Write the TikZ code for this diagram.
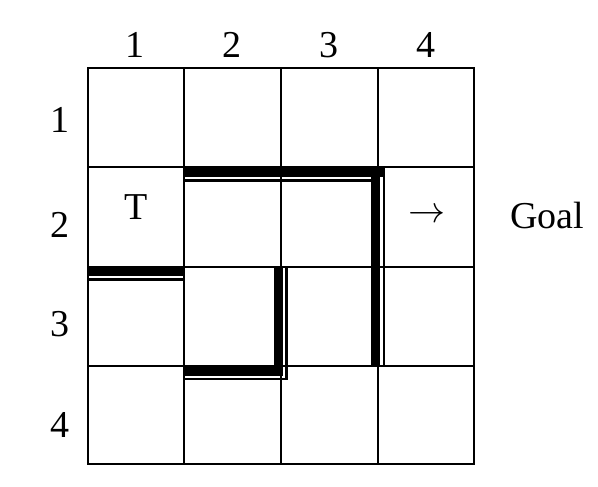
\documentclass[tikz,border=0pt]{standalone}
\usepackage{fontspec}
\setmainfont{Liberation Serif}
\begin{document}
\begin{tikzpicture}[x=1pt,y=-1pt,
  grid/.style={line width=2pt},
  wall/.style={fill=black},
  lbl/.style={anchor=base,inner sep=0pt,font=\fontsize{38}{40}\selectfont}]
\useasboundingbox (0,0) rectangle (598,487);
% grid
\draw[grid] (88.3,68) rectangle (474,464);
\foreach \x in {184,281,378} \draw[grid] (\x,68) -- (\x,464);
\foreach \y in {167,267,366} \draw[grid] (88.3,\y) -- (474,\y);
% column labels
\node[lbl] (c1) at (135,58) {1};
\node[lbl] (c2) at (232,58) {2};
\node[lbl] (c3) at (329,58) {3};
\node[lbl] (c4) at (426,58) {4};
% row labels
\node[lbl] (r1) at (60,132) {1};
\node[lbl] (r2) at (60,237.5) {2};
\node[lbl] (r3) at (60,336) {3};
\node[lbl] (r4) at (60,437.5) {4};
% cell texts
\node[lbl] (t) at (136,219.3) {T};
\node[inner sep=0pt,anchor=center] (arr) at (426.5,215.5) {\scalebox{3.7}{$\rightarrow$}};
\node[lbl,anchor=base west] (goal) at (510,228.3) {Goal};
% wall left (row 2/3, col 1)
\fill[wall] (88.3,266.7) rectangle (184,276);
\fill[wall] (88.3,278.3) rectangle (184,280.6);
% wall top L
\fill[wall] (184,167) rectangle (385.3,177);
\fill[wall] (184,179.2) rectangle (380,181.6);
\fill[wall] (371,167) rectangle (380,366);
\fill[wall] (382.6,167) rectangle (385.3,366);
% wall bottom L
\fill[wall] (274,267) rectangle (283,376);
\fill[wall] (285.3,267) rectangle (287.8,380.3);
\fill[wall] (184,366) rectangle (283,376);
\fill[wall] (184,377.8) rectangle (287.8,380.3);
\end{tikzpicture}
\end{document}
